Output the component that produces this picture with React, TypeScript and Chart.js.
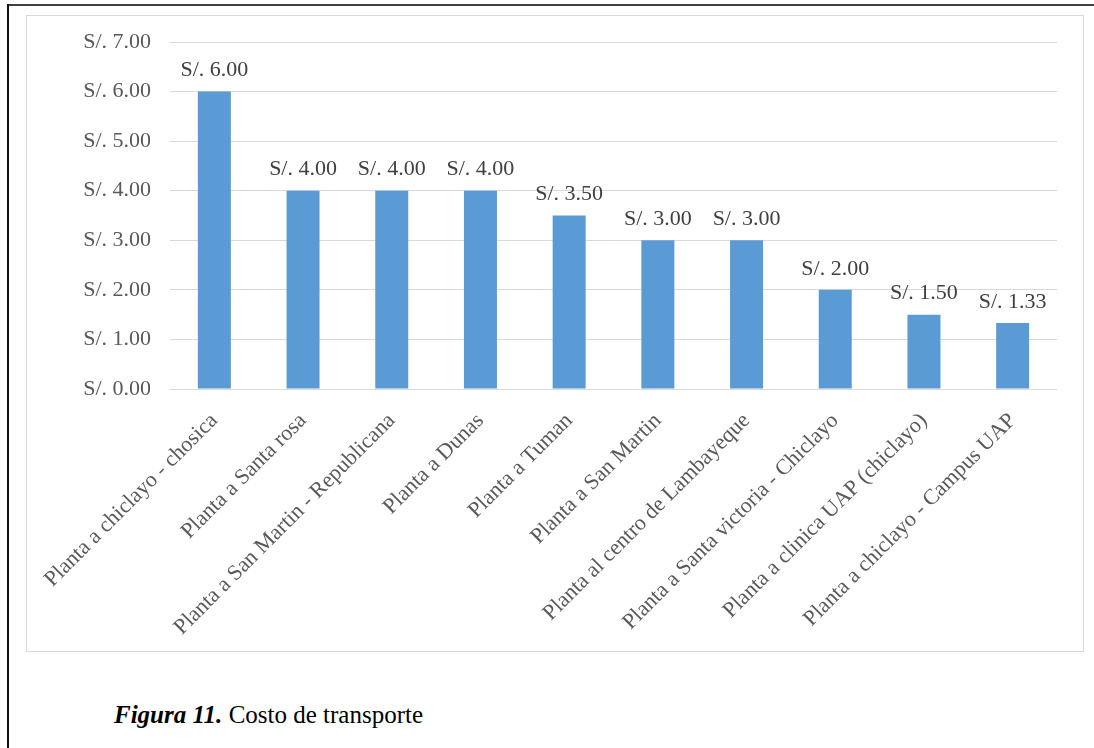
import React, { useEffect, useRef } from "react";
import { Chart, registerables } from "chart.js";

Chart.register(...registerables);

const categories = [
  "Planta a chiclayo - chosica",
  "Planta a Santa rosa",
  "Planta a San Martin - Republicana",
  "Planta a Dunas",
  "Planta a Tuman",
  "Planta a San Martin",
  "Planta al centro de Lambayeque",
  "Planta a Santa victoria - Chiclayo",
  "Planta a clinica UAP (chiclayo)",
  "Planta a chiclayo - Campus UAP",
];

const costs = [6.0, 4.0, 4.0, 4.0, 3.5, 3.0, 3.0, 2.0, 1.5, 1.33];

const yMin = 0;
const yMax = 7;
const yStep = 1;

const formatSoles = (v: number) => "S/. " + Number(v).toFixed(2);

const SERIF = '"Liberation Serif", "Times New Roman", serif';

const barLabelPlugin = {
  id: "barLabels",
  afterDatasetsDraw(chart: any) {
    const ctx = chart.ctx;
    const meta = chart.getDatasetMeta(0);
    ctx.save();
    ctx.font = `22px ${SERIF}`;
    ctx.fillStyle = "#404040";
    ctx.textAlign = "center";
    ctx.textBaseline = "middle";
    meta.data.forEach((bar: any, i: number) => {
      ctx.fillText(formatSoles(costs[i]), bar.x, bar.y - 21);
    });
    ctx.restore();
  },
};

export default function App() {
  const canvasRef = useRef<HTMLCanvasElement | null>(null);

  useEffect(() => {
    if (!canvasRef.current) return;
    const chart = new Chart(canvasRef.current, {
      type: "bar",
      data: {
        labels: categories,
        datasets: [
          {
            data: costs,
            backgroundColor: "#5b9bd5",
            borderWidth: 0,
            barPercentage: 0.372,
            categoryPercentage: 1,
          },
        ],
      },
      options: {
        responsive: false,
        animation: false,
        layout: { padding: { left: 0, right: 26, top: 26, bottom: 0 } },
        plugins: {
          legend: { display: false },
          tooltip: { enabled: false },
        },
        scales: {
          x: {
            grid: { display: false },
            border: { display: false },
            ticks: {
              color: "#595959",
              font: { family: SERIF, size: 22 },
              maxRotation: 45,
              minRotation: 45,
              autoSkip: false,
              padding: 11,
            },
            afterFit: (s: any) => {
              s.height = 262;
            },
          },
          y: {
            min: yMin,
            max: yMax,
            ticks: {
              stepSize: yStep,
              callback: (v: any) => formatSoles(Number(v)),
              color: "#595959",
              font: { family: SERIF, size: 22 },
              padding: 2,
            },
            grid: {
              color: "#d9d9d9",
              lineWidth: 1,
              drawTicks: true,
              tickLength: 17,
              tickColor: "rgba(0,0,0,0)",
            },
            border: { display: false },
            afterFit: (s: any) => {
              s.width = 143;
            },
          },
        },
      },
      plugins: [barLabelPlugin],
    } as any);
    return () => chart.destroy();
  }, []);

  return (
    <div
      style={{
        position: "fixed",
        left: 0,
        top: 0,
        width: 1094,
        height: 748,
        background: "#ffffff",
        overflow: "hidden",
      }}
    >
      <div style={{ position: "absolute", left: 7, top: 4, width: 1087, height: 2, background: "#404040" }} />
      <div style={{ position: "absolute", left: 7, top: 4, width: 2, height: 744, background: "#111111" }} />
      <div
        style={{
          position: "absolute",
          left: 26,
          top: 15,
          width: 1058,
          height: 637,
          border: "1px solid #d9d9d9",
          boxSizing: "border-box",
        }}
      />
      <canvas
        ref={canvasRef}
        width={1056}
        height={635}
        style={{ position: "absolute", left: 27, top: 16, width: 1056, height: 635 }}
      />
      <div
        style={{
          position: "absolute",
          left: 114,
          top: 702,
          fontFamily: SERIF,
          fontSize: 25,
          lineHeight: "25px",
          color: "#000000",
          whiteSpace: "nowrap",
        }}
      >
        <b>
          <i>Figura 11.</i>
        </b>{" "}
        Costo de transporte
      </div>
    </div>
  );
}
